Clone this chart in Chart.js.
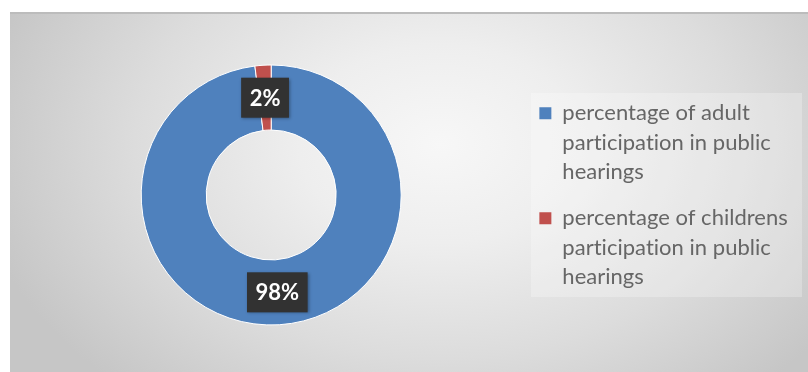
<!DOCTYPE html>
<html>
<head>
<meta charset="utf-8">
<script src="https://cdn.jsdelivr.net/npm/chart.js@4.4.0/dist/chart.umd.min.js"></script>
<style>
  html, body { margin: 0; padding: 0; background: #ffffff; width: 808px; height: 372px; overflow: hidden; }
  #frame {
    position: absolute; left: 10px; top: 12px; width: 798px; height: 360px;
    box-sizing: border-box; border-top: 2px solid #bcbcbc;
    background: radial-gradient(ellipse 470px 330px at 430px 130px, #f7f7f7 0%, #eeeeee 30%, #dcdcdc 65%, #c6c6c6 100%);
  }
  #legbg { position: absolute; left: 531px; top: 93px; width: 271px; height: 204px; background: rgba(255,255,255,0.25); }
  #wrap { position: absolute; left: 0; top: 0; width: 808px; height: 372px; }
</style>
</head>
<body>
<div id="frame"></div>
<div id="legbg"></div>
<div id="wrap"><canvas id="c" width="808" height="372"></canvas></div>
<script>
// Legend entries, one array of wrapped lines per category
const categories = [
  ['percentage of adult', 'participation in public', 'hearings'],
  ['percentage of childrens ', 'participation in public', 'hearings']
];
const values = [98, 2];
const colors = ['#4F81BD', '#C0504D'];

const noLigatures = {
  id: 'noLigatures',
  beforeDraw(chart) {
    try { chart.ctx.letterSpacing = '0.02px'; } catch (e) {}
  }
};

const boxLabels = {
  id: 'boxLabels',
  afterDatasetsDraw(chart) {
    const ctx = chart.ctx;
    const meta = chart.getDatasetMeta(0);
    const data = chart.data.datasets[0].data;
    ctx.save();
    ctx.font = '700 22px Lato';
    ctx.textAlign = 'center';
    ctx.textBaseline = 'middle';
    meta.data.forEach((arc, i) => {
      const p = arc.tooltipPosition();
      const t = data[i] + '%';
      const w = ctx.measureText(t).width + 17;
      const h = 40;
      ctx.shadowColor = 'rgba(0,0,0,0.35)';
      ctx.shadowBlur = 3;
      ctx.shadowOffsetX = 1;
      ctx.shadowOffsetY = 1;
      ctx.fillStyle = '#323232';
      ctx.fillRect(p.x - w / 2, p.y - h / 2, w, h);
      ctx.shadowColor = 'transparent';
      ctx.fillStyle = '#ffffff';
      ctx.fillText(t, p.x, p.y + 1);
    });
    ctx.restore();
  }
};

new Chart(document.getElementById('c'), {
  type: 'doughnut',
  data: {
    labels: categories,
    datasets: [{
      data: values,
      backgroundColor: colors,
      borderColor: '#ffffff',
      borderWidth: 1
    }]
  },
  options: {
    responsive: false,
    animation: false,
    devicePixelRatio: 1,
    radius: 130,
    cutout: '50%',
    layout: { padding: { left: 19.5, right: 5, top: 28, bottom: 10 } },
    plugins: {
      tooltip: { enabled: false },
      legend: {
        position: 'right',
        align: 'center',
        title: { display: true, text: '', padding: 0, font: { size: 8, lineHeight: 1 } },
        labels: {
          boxWidth: 12,
          boxHeight: 12,
          padding: 16.5,
          color: '#595959',
          font: { family: 'Lato', size: 22, lineHeight: 1.341 },
          generateLabels(chart) {
            return chart.data.labels.map((lab, i) => ({
              text: lab,
              fillStyle: colors[i],
              strokeStyle: colors[i],
              lineWidth: 0,
              hidden: false,
              index: i
            }));
          }
        }
      }
    }
  },
  plugins: [noLigatures, boxLabels]
});
</script>
</body>
</html>
